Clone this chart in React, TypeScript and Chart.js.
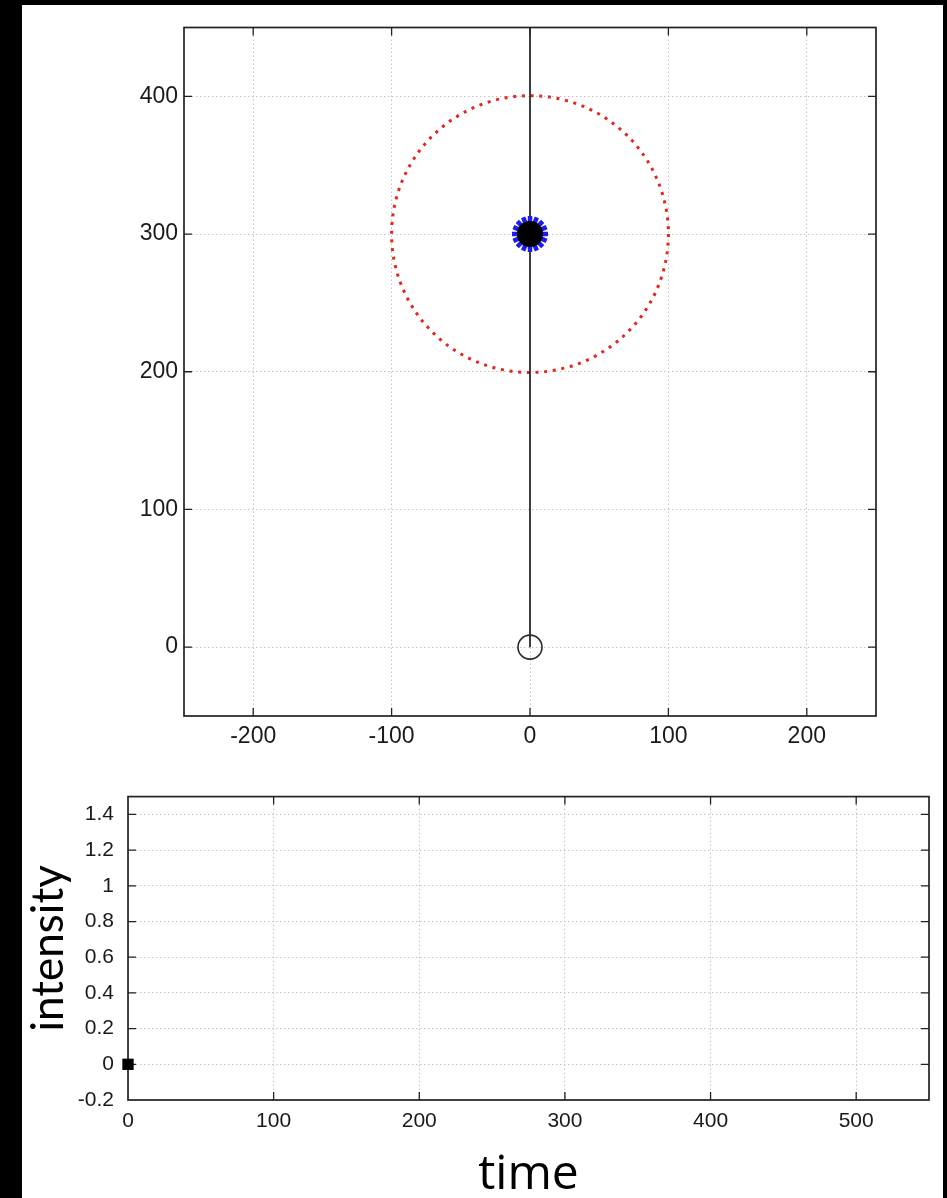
import React, { useEffect, useRef } from 'react';
import { Chart, registerables } from 'chart.js';

Chart.register(...registerables);

// ---------- top panel data ----------
const TOP_X_RANGE = [-250, 250];
const TOP_Y_RANGE = [-50, 450];
const TOP_X_TICKS = [-200, -100, 0, 100, 200];
const TOP_Y_TICKS = [0, 100, 200, 300, 400];
const ROD_X = [0, 0];
const ROD_Y = [0, 450];
const PIVOT_X = [0];
const PIVOT_Y = [0];
const BOB_X = [0];
const BOB_Y = [300];
const ORBIT_X = [0];
const ORBIT_Y = [300];
const ORBIT_RADIUS = [100];

// ---------- bottom panel data ----------
const BOTTOM_X_RANGE = [0, 550];
const BOTTOM_Y_RANGE = [-0.2, 1.5];
const BOTTOM_X_TICKS = [0, 100, 200, 300, 400, 500];
const BOTTOM_Y_TICKS = [-0.2, 0, 0.2, 0.4, 0.6, 0.8, 1, 1.2, 1.4];
const TIME = [0];
const INTENSITY = [0];

const X_TITLE = 'time';
const Y_TITLE = 'intensity';

const TICK_FAMILY = "'Liberation Sans', Arial, Helvetica, sans-serif";
const TOP_TICK_FONT = { family: TICK_FAMILY, size: 23 };
const BOTTOM_TICK_FONT = { family: TICK_FAMILY, size: 21 };
const Y_TITLE_FONT = { family: "Lato, 'Open Sans', sans-serif", size: 44, lineHeight: 1.2 };
const X_TITLE_FONT = { family: "'Open Sans', Lato, sans-serif", size: 48, lineHeight: 1.2 };

const pts = (xs: number[], ys: number[]) => xs.map((x, i) => ({ x, y: ys[i] }));

const framePlugin = {
  id: 'frame',
  beforeDatasetsDraw(chart: any, _args: any, opts: any) {
    const { ctx, chartArea: a } = chart;
    const xs = chart.scales.x;
    const ys = chart.scales.y;
    const L = opts.tickLength ?? 8;
    ctx.save();
    ctx.strokeStyle = opts.color || '#222';
    ctx.lineWidth = opts.tickWidth ?? 1.3;
    ctx.beginPath();
    for (const t of xs.ticks) {
      const px = xs.getPixelForValue(t.value);
      if (px <= a.left + 1 || px >= a.right - 1) continue;
      ctx.moveTo(px, a.bottom);
      ctx.lineTo(px, a.bottom - L);
      ctx.moveTo(px, a.top);
      ctx.lineTo(px, a.top + L);
    }
    for (const t of ys.ticks) {
      const py = ys.getPixelForValue(t.value);
      if (py <= a.top + 1 || py >= a.bottom - 1) continue;
      ctx.moveTo(a.left, py);
      ctx.lineTo(a.left + L, py);
      ctx.moveTo(a.right, py);
      ctx.lineTo(a.right - L, py);
    }
    ctx.stroke();
    ctx.lineWidth = opts.width ?? 1.6;
    ctx.strokeRect(a.left, a.top, a.right - a.left, a.bottom - a.top);
    ctx.restore();
  },
};

const dashPlugin = {
  id: 'pointDash',
  beforeDatasetDraw(chart: any, args: any) {
    const ds = chart.data.datasets[args.index];
    if (ds.pointDash) chart.ctx.setLineDash(ds.pointDash);
  },
  afterDatasetDraw(chart: any) {
    chart.ctx.setLineDash([]);
  },
};

function axisCommon(ticksList: number[], range: number[], fit: (s: any) => void, pad: number, font: any) {
  return {
    type: 'linear' as const,
    min: range[0],
    max: range[1],
    afterBuildTicks: (s: any) => {
      s.ticks = ticksList.map((v) => ({ value: v }));
    },
    afterFit: fit,
    grid: { color: '#c4c4c4', lineWidth: 1, drawTicks: false },
    border: { display: false, dash: [1.5, 2.5] },
    ticks: {
      font,
      color: '#1a1a1a',
      padding: pad,
      autoSkip: false,
      maxRotation: 0,
      callback: (v: any) => String(v),
    },
  };
}

function TopChart() {
  const ref = useRef<HTMLCanvasElement>(null);
  useEffect(() => {
    const radiusPx = (c: any) => {
      const s = c.chart.scales.x;
      return Math.abs(s.getPixelForValue(ORBIT_RADIUS[0]) - s.getPixelForValue(0));
    };
    const bob = pts(BOB_X, BOB_Y);
    const chart = new Chart(ref.current!, {
      type: 'scatter',
      data: {
        datasets: [
          {
            data: bob,
            order: 0,
            pointStyle: 'circle',
            pointRadius: 13,
            pointBackgroundColor: '#000',
            pointBorderWidth: 0,
          },
          ...[0, 22.5].map((rot, i) => ({
            data: bob,
            order: 1 + i,
            pointStyle: 'star',
            pointRadius: 18,
            pointRotation: rot,
            pointBorderColor: '#1c1cf0',
            pointBorderWidth: 4.5,
            pointBackgroundColor: 'rgba(0,0,0,0)',
          })),
          {
            data: pts(ROD_X, ROD_Y),
            order: 6,
            showLine: true,
            borderColor: '#2a2a2a',
            borderWidth: 1.8,
            pointRadius: 0,
          },
          {
            data: pts(PIVOT_X, PIVOT_Y),
            order: 7,
            pointStyle: 'circle',
            pointRadius: 12,
            pointBorderColor: '#2a2a2a',
            pointBorderWidth: 1.6,
            pointBackgroundColor: 'rgba(0,0,0,0)',
          },
          {
            data: pts(ORBIT_X, ORBIT_Y),
            order: 8,
            pointStyle: 'circle',
            pointRadius: radiusPx,
            pointBorderColor: '#e4251f',
            pointBorderWidth: 3,
            pointBackgroundColor: 'rgba(0,0,0,0)',
            pointDash: [3, 5.7],
          } as any,
        ],
      },
      options: {
        responsive: false,
        animation: false,
        events: [],
        layout: { padding: { left: 0, right: 67, top: 21, bottom: 0 } },
        plugins: {
          legend: { display: false },
          tooltip: { enabled: false },
          frame: { width: 1.7, tickLength: 8, tickWidth: 1.3, color: '#222' },
        } as any,
        datasets: { scatter: { clip: false } } as any,
        scales: {
          x: axisCommon(TOP_X_TICKS, TOP_X_RANGE, (s: any) => { s.height = 54; }, 7, TOP_TICK_FONT),
          y: axisCommon(TOP_Y_TICKS, TOP_Y_RANGE, (s: any) => { s.width = 162; }, 6, TOP_TICK_FONT),
        } as any,
      },
      plugins: [framePlugin, dashPlugin],
    });
    return () => chart.destroy();
  }, []);
  return <canvas ref={ref} width={921} height={765} style={{ display: 'block', width: 921, height: 765 }} />;
}

function BottomChart() {
  const ref = useRef<HTMLCanvasElement>(null);
  useEffect(() => {
    const xAxis: any = axisCommon(BOTTOM_X_TICKS, BOTTOM_X_RANGE, (s: any) => { s.height = 98; }, 9, BOTTOM_TICK_FONT);
    xAxis.title = { display: true, text: X_TITLE, color: '#000', font: X_TITLE_FONT, padding: { top: 0, bottom: -6 } };
    const yAxis: any = axisCommon(BOTTOM_Y_TICKS, BOTTOM_Y_RANGE, (s: any) => { s.width = 106; }, 14, BOTTOM_TICK_FONT);
    yAxis.title = { display: true, text: Y_TITLE, color: '#000', font: Y_TITLE_FONT, padding: { top: 0, bottom: 0 } };
    const chart = new Chart(ref.current!, {
      type: 'scatter',
      data: {
        datasets: [
          {
            data: pts(TIME, INTENSITY),
            pointStyle: 'rect',
            pointRadius: 8,
            pointBackgroundColor: '#000',
            pointBorderWidth: 0,
          },
        ],
      },
      options: {
        responsive: false,
        animation: false,
        events: [],
        layout: { padding: { left: 0, right: 14, top: 22, bottom: 0 } },
        plugins: {
          legend: { display: false },
          tooltip: { enabled: false },
          frame: { width: 1.7, tickLength: 8, tickWidth: 1.3, color: '#222' },
        } as any,
        datasets: { scatter: { clip: false } } as any,
        scales: { x: xAxis, y: yAxis },
      },
      plugins: [framePlugin],
    });
    return () => chart.destroy();
  }, []);
  return <canvas ref={ref} width={921} height={428} style={{ display: 'block', width: 921, height: 428 }} />;
}

export default function App() {
  return (
    <div style={{ position: 'absolute', left: 0, top: 0, width: 947, height: 1198, background: '#000', overflow: 'hidden' }}>
      <div style={{ position: 'absolute', left: 22, top: 5, width: 921, height: 1193, background: '#fff' }}>
        <div style={{ position: 'absolute', left: 0, top: 0 }}>
          <TopChart />
        </div>
        <div style={{ position: 'absolute', left: 0, top: 765 }}>
          <BottomChart />
        </div>
      </div>
    </div>
  );
}
